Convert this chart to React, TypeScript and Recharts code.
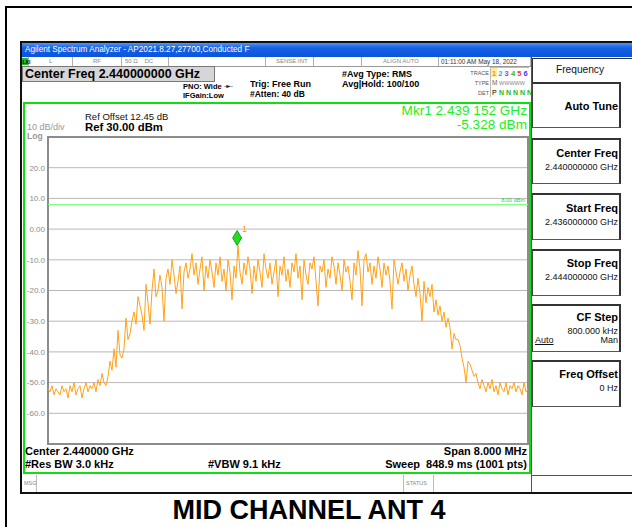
import React from 'react';
import {
  LineChart,
  Line,
  XAxis,
  YAxis,
  CartesianGrid,
  ReferenceLine,
  ReferenceDot,
  ReferenceArea,
} from 'recharts';

const FONT = '"Liberation Sans", Arial, sans-serif';

// sweep: 2.436 GHz .. 2.444 GHz (MHz units), levels in dBm
const startMHz = 2436;
const stopMHz = 2444;
const levels = [
  -52, -53, -51, -54, -52, -53, -54, -51, -53, -52,
  -55, -51, -53, -50, -54, -52, -51, -55, -52, -50,
  -53, -51, -52, -50, -53, -49, -51, -47, -50, -51,
  -48, -43, -46, -39, -45, -33, -41, -42, -39, -29,
  -36, -34, -30, -27, -31, -22, -25, -28, -33, -18,
  -24, -31, -20, -13, -22, -20, -15, -19, -30, -16,
  -13, -18, -10, -15, -21, -17, -12, -26, -14, -11,
  -16, -13, -8, -15, -11, -18, -13, -9, -20, -12,
  -16, -10, -14, -19, -11, -15, -9, -17, -13, -20,
  -10, -14, -23, -12, -16, -5.3, -14, -18, -11, -15,
  -9, -13, -21, -12, -17, -10, -14, -19, -8, -13,
  -16, -11, -18, -14, -10, -22, -12, -15, -9, -17,
  -13, -19, -11, -14, -8, -16, -12, -23, -10, -15,
  -18, -11, -13, -9, -17, -25, -12, -14, -10, -19,
  -13, -16, -9, -12, -18, -11, -15, -20, -10, -14,
  -12, -17, -23, -11, -15, -7, -13, -25, -10, -8,
  -14, -11, -18, -12, -16, -9, -13, -19, -11, -15,
  -12, -17, -26, -10, -14, -18, -14, -11, -17, -13,
  -20, -15, -12, -18, -22, -16, -21, -30, -17, -24,
  -19, -22, -18, -27, -23, -28, -25, -30, -27, -32,
  -29, -32, -39, -34, -36, -36, -38, -42, -45, -50,
  -43, -44, -46, -48, -47, -50, -52, -49, -51, -53,
  -50, -52, -49, -53, -51, -54, -50, -52, -53, -50,
  -54, -51, -52, -50, -53, -51, -52, -54, -50, -53, -52,
];
const freqTicks = [2436, 2436.8, 2437.6, 2438.4, 2439.2, 2440, 2440.8, 2441.6, 2442.4, 2443.2, 2444];
const levelTicks = [30, 20, 10, 0, -10, -20, -30, -40, -50, -60, -70];
const displayLine = 8;
const mkrFreq = 2439.152;
const mkrLevel = -5.328;

const softkeys = [
  { title: 'Auto Tune', lines: [] as string[], top: 82, h: 46, t: 25 },
  { title: 'Center Freq', lines: ['2.440000000 GHz'], top: 138, h: 46, t: 16 },
  { title: 'Start Freq', lines: ['2.436000000 GHz'], top: 193, h: 47, t: 16 },
  { title: 'Stop Freq', lines: ['2.444000000 GHz'], top: 249, h: 47, t: 15 },
  { title: 'CF Step', lines: ['800.000 kHz'], top: 304, h: 48, t: 14 },
  { title: 'Freq Offset', lines: ['0 Hz'], top: 360, h: 47, t: 15 },
];

type TxtProps = {
  x: number;
  y: number;
  size: number;
  bold?: boolean;
  color?: string;
  align?: 'left' | 'right' | 'center';
  children: React.ReactNode;
  style?: React.CSSProperties;
};

function Txt({ x, y, size, bold, color = '#000', align = 'left', children, style }: TxtProps) {
  const s: React.CSSProperties = {
    position: 'absolute',
    top: y - size * 0.6,
    fontSize: size,
    lineHeight: `${size * 1.2}px`,
    fontWeight: bold ? 700 : 400,
    color,
    whiteSpace: 'pre',
    fontFamily: FONT,
    ...style,
  };
  if (align === 'right') s.right = 632 - x;
  else if (align === 'center') {
    s.left = x;
    s.transform = 'translateX(-50%)';
  } else s.left = x;
  return <div style={s}>{children}</div>;
}

const box = (l: number, t: number, w: number, h: number, extra: React.CSSProperties = {}) => (
  <div style={{ position: 'absolute', left: l, top: t, width: w, height: h, boxSizing: 'border-box', ...extra }} />
);

const Diamond = (props: any) => {
  const { cx, cy } = props;
  if (cx == null || cy == null) return null;
  return (
    <g>
      <polygon
        points={`${cx},${cy - 15} ${cx + 4.5},${cy - 7.5} ${cx},${cy} ${cx - 4.5},${cy - 7.5}`}
        fill="#22dd22"
        stroke="#118811"
        strokeWidth={0.8}
      />
      <text x={cx + 5} y={cy - 13} fontSize={9} fill="#ff9900" fontFamily={FONT}>
        1
      </text>
    </g>
  );
};

export default function App() {
  const data = levels.map((v, i) => ({
    f: startMHz + (i * (stopMHz - startMHz)) / (levels.length - 1),
    v,
  }));

  const statusSeps = [28, 72, 121, 168, 265, 313, 361, 438, 530];
  const traceColors = ['#ff9900', '#00b4ff', '#e020e0', '#22c022', '#ff3030', '#3a3aff'];

  return (
    <div
      style={{
        position: 'fixed',
        left: 0,
        top: 0,
        width: 632,
        height: 527,
        background: '#fff',
        overflow: 'hidden',
        fontFamily: FONT,
      }}
    >
      {/* page frame */}
      {box(5, 6, 700, 600, { border: '2px solid #000' })}
      {/* instrument window */}
      {box(20, 41, 700, 453, { border: '2px solid #111', background: '#fff' })}
      {/* title bar */}
      {box(22, 43, 640, 14, { background: 'linear-gradient(to bottom, #4d96fa 0%, #1660e4 35%, #0b55dc 100%)' })}
      <Txt x={25} y={50} size={8.2} color="#fff">
        Agilent Spectrum Analyzer - AP2021.8.27,27700,Conducted F
      </Txt>

      {/* status row */}
      {box(22, 57, 509, 10, { borderBottom: '1px solid #9a9a9a', background: '#fff' })}
      {statusSeps.map((x) => (
        <div key={x} style={{ position: 'absolute', left: x, top: 57, width: 1, height: 9, background: '#b0b0b0' }} />
      ))}
      {box(22, 58, 6, 7, { background: '#22bb22' })}
      <Txt x={22.5} y={61.5} size={5} bold>LXI</Txt>
      <Txt x={49} y={61.5} size={6} color="#888">L</Txt>
      <Txt x={93} y={61.5} size={6} color="#888">RF</Txt>
      <Txt x={125} y={61.5} size={6} color="#888">{'50 Ω    DC'}</Txt>
      <Txt x={276} y={61.5} size={6} color="#888">SENSE:INT</Txt>
      <Txt x={383} y={61.5} size={6} color="#888">ALIGN AUTO</Txt>
      <Txt x={441} y={61.5} size={6.4} color="#333">01:11:00 AM May 18, 2022</Txt>

      {/* centre freq box */}
      {box(22, 66, 193, 16, { background: '#d6d6d6', border: '1px solid #777' })}
      <Txt x={25} y={74} size={12.5} bold>Center Freq 2.440000000 GHz</Txt>

      <Txt x={183} y={86} size={7.5} bold>PNO: Wide</Txt>
      <Txt x={224} y={86} size={6} color="#222" style={{ fontFamily: '"DejaVu Sans", sans-serif' }}>{'-►-'}</Txt>
      <Txt x={183} y={95} size={7.5} bold>IFGain:Low</Txt>
      <Txt x={250} y={84} size={9} bold>Trig: Free Run</Txt>
      <Txt x={250} y={94} size={8.5} bold>#Atten: 40 dB</Txt>
      <Txt x={342} y={74} size={9} bold>#Avg Type: RMS</Txt>
      <Txt x={342} y={84} size={9} bold>Avg|Hold: 100/100</Txt>

      {/* trace / type / det block */}
      <Txt x={489} y={73} size={5.5} color="#555" align="right">TRACE</Txt>
      <Txt x={489} y={83} size={5.5} color="#555" align="right">TYPE</Txt>
      <Txt x={489} y={93} size={5.5} color="#555" align="right">DET</Txt>
      {box(490, 67, 39, 30, { borderLeft: '1px solid #bbb', borderTop: '1px solid #bbb' })}
      {box(491, 68, 6, 9, { background: '#ffee99' })}
      {traceColors.map((c, k) => (
        <Txt key={c} x={492 + k * 6.3} y={73} size={7.5} bold color={c}>
          {String(k + 1)}
        </Txt>
      ))}
      <Txt x={492} y={83} size={6.5} color="#666">M</Txt>
      <Txt x={499} y={83} size={5.5} color="#888">{'WWWWW'}</Txt>
      <Txt x={492} y={93} size={7} color="#000">P</Txt>
      <Txt x={499} y={93} size={7} bold color="#22bb22">{'N N N N N'}</Txt>

      {/* right panel */}
      <div style={{ position: 'absolute', left: 531, top: 57, width: 1, height: 435, background: '#555' }} />
      {box(532, 58, 110, 24, { borderTop: '1.5px solid #333', borderLeft: '1.5px solid #333' })}
      <Txt x={580} y={70} size={10.2} align="center" color="#111">Frequency</Txt>
      {softkeys.map((k) => (
        <React.Fragment key={k.title}>
          {box(532, k.top, 89, k.h, {
            borderTop: '2px solid #333',
            borderRight: '2px solid #333',
            borderLeft: '1.5px solid #444',
            borderBottom: '1.5px solid #555',
          })}
          <Txt x={618} y={k.top + k.t} size={11} bold align="right">{k.title}</Txt>
          {k.lines.map((ln, j) => (
            <Txt key={ln} x={618} y={k.top + k.t + 13 + j * 12} size={9} align="right" color="#111">
              {ln}
            </Txt>
          ))}
        </React.Fragment>
      ))}
      <Txt x={535} y={340} size={9} color="#111" style={{ textDecoration: 'underline' }}>Auto</Txt>
      <Txt x={618} y={340} size={9} align="right" color="#111">Man</Txt>
      <div style={{ position: 'absolute', left: 531, top: 475, width: 110, height: 1, background: '#555' }} />

      {/* graph frame */}
      {box(23, 102, 508, 372, { border: '2px solid #11dd11' })}
      <Txt x={85} y={117} size={9.5} color="#111">Ref Offset 12.45 dB</Txt>
      <Txt x={85} y={128} size={11.3} bold>Ref 30.00 dBm</Txt>
      <Txt x={27} y={127.5} size={9} color="#999">10 dB/div</Txt>
      <Txt x={27} y={136} size={8.5} bold color="#999">Log</Txt>
      <Txt x={527} y={111.5} size={13.6} color="#22ee22" align="right">Mkr1 2.439 152 GHz</Txt>
      <Txt x={527} y={125.5} size={13.6} color="#22ee22" align="right">-5.328 dBm</Txt>

      <div style={{ position: 'absolute', left: 0, top: 135 }}>
        <LineChart width={530} height={311} data={data} margin={{ top: 2, right: 2, bottom: 2, left: 0 }}>
          <CartesianGrid stroke="#b9b9b9" strokeWidth={1} />
          <XAxis
            dataKey="f"
            type="number"
            domain={[startMHz, stopMHz]}
            ticks={freqTicks}
            height={0}
            tick={false}
            axisLine={false}
            tickLine={false}
          />
          <YAxis
            type="number"
            domain={[-70, 30]}
            ticks={levelTicks}
            width={48}
            axisLine={false}
            tickLine={false}
            tickSize={0}
            tickMargin={3}
            interval={0}
            tick={{ fontSize: 8, fill: '#8c8c8c', fontFamily: FONT }}
            tickFormatter={(v: number) => (v === 30 || v === -70 ? '' : v === 0 ? '0.00' : v.toFixed(1))}
          />
          <ReferenceArea
            x1={startMHz}
            x2={stopMHz}
            y1={-70}
            y2={30}
            fill="none"
            stroke="#8c8c8c"
            strokeWidth={2}
            fillOpacity={0}
          />
          <ReferenceLine
            y={displayLine}
            stroke="#7dff7d"
            strokeWidth={1}
            label={{ value: '8.00 dBm', position: 'insideBottomRight', fontSize: 5.5, fill: '#33cc33', offset: 3 }}
          />
          <Line
            type="linear"
            dataKey="v"
            stroke="#ffa21a"
            strokeWidth={1}
            dot={false}
            isAnimationActive={false}
          />
          <ReferenceDot x={mkrFreq} y={mkrLevel} shape={Diamond} />
        </LineChart>
      </div>

      <Txt x={25} y={452} size={11} bold>Center 2.440000 GHz</Txt>
      <Txt x={527} y={452} size={11} bold align="right">Span 8.000 MHz</Txt>
      <Txt x={25} y={465} size={11} bold>#Res BW 3.0 kHz</Txt>
      <Txt x={208} y={465} size={11} bold>#VBW 9.1 kHz</Txt>
      <Txt x={527} y={465} size={11} bold align="right">{'Sweep  848.9 ms (1001 pts)'}</Txt>

      {/* message row */}
      <div style={{ position: 'absolute', left: 36, top: 475, width: 1, height: 17, background: '#bbb' }} />
      <div style={{ position: 'absolute', left: 403, top: 475, width: 1, height: 17, background: '#bbb' }} />
      <div style={{ position: 'absolute', left: 433, top: 475, width: 1, height: 17, background: '#bbb' }} />
      <Txt x={24} y={483} size={5.5} color="#888">MSG</Txt>
      <Txt x={406} y={483} size={5.5} color="#888">STATUS</Txt>

      <Txt x={309} y={510} size={27} bold align="center">MID CHANNEL ANT 4</Txt>
    </div>
  );
}
